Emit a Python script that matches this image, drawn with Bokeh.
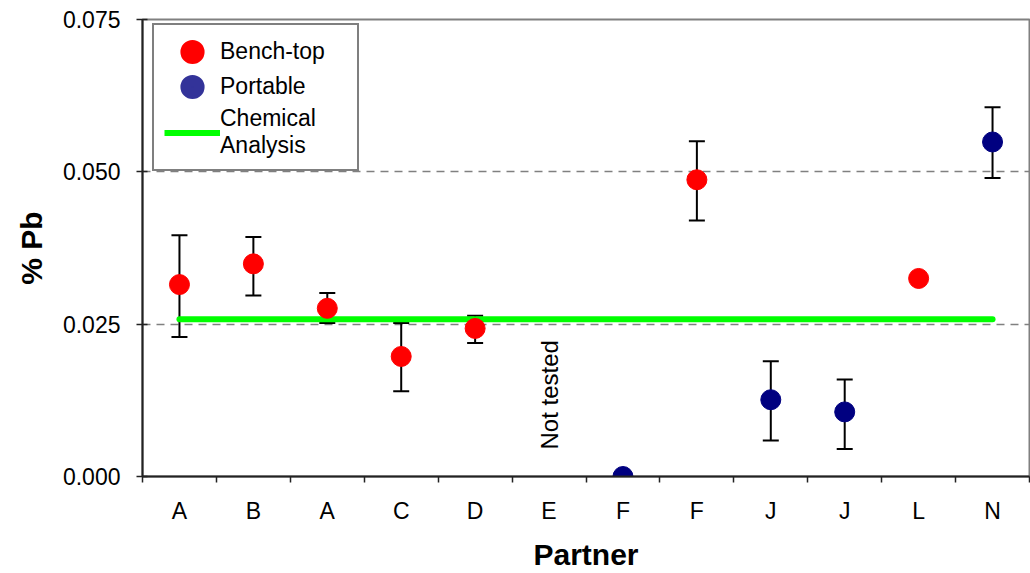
import math
from bokeh.plotting import figure
from bokeh.models import (ColumnDataSource, Whisker, TeeHead, FixedTicker, Legend,
                          LegendItem, Label, NumeralTickFormatter)
from bokeh.embed import file_html
from bokeh.resources import INLINE

# ---------------- data ----------------
partners = ["A", "B", "A", "C", "D", "E", "F", "F", "J", "J", "L", "N"]
instrument = ["Bench-top", "Bench-top", "Bench-top", "Bench-top", "Bench-top", None,
              "Portable", "Bench-top", "Portable", "Portable", "Bench-top", "Portable"]
pb_values = [0.0315, 0.0349, 0.0276, 0.0197, 0.0243, None, 0.0000, 0.0487, 0.0126, 0.0106, 0.0325, 0.0549]
err_upper = [0.0396, 0.0393, 0.0301, 0.0252, 0.0264, None, None, 0.0550, 0.0189, 0.0159, None, 0.0606]
err_lower = [0.0229, 0.0297, 0.0252, 0.0140, 0.0219, None, None, 0.0420, 0.0059, 0.0045, None, 0.0490]
chemical_analysis = 0.0258
not_tested_partner = 5
y_ticks = [0.0, 0.025, 0.05, 0.075]

FONT = "Liberation Sans"
RED = "#ff0000"
NAVY = "#000080"
LEG_NAVY = "#333399"
GREEN = "#00ff00"

idx = list(range(len(partners)))

bench = dict(x=[i for i in idx if instrument[i] == "Bench-top"],
             y=[pb_values[i] for i in idx if instrument[i] == "Bench-top"])
port = dict(x=[i for i in idx if instrument[i] == "Portable"],
            y=[pb_values[i] for i in idx if instrument[i] == "Portable"])
err = dict(x=[i for i in idx if err_upper[i] is not None],
           upper=[err_upper[i] for i in idx if err_upper[i] is not None],
           lower=[err_lower[i] for i in idx if err_upper[i] is not None])

p = figure(width=1030, height=573, x_range=(-0.5, len(partners) - 0.5), y_range=(0, 0.075),
           output_backend="svg", toolbar_location=None,
           min_border_left=142, min_border_top=19, min_border_right=1, min_border_bottom=97)
p.background_fill_color = "white"
p.border_fill_color = "white"
p.outline_line_color = "#808080"
p.outline_line_width = 2

# axes
p.xaxis.ticker = FixedTicker(ticks=idx, minor_ticks=[i - 0.5 for i in range(len(partners) + 1)])
p.xaxis.major_label_overrides = {i: lab for i, lab in enumerate(partners)}
p.xaxis.major_tick_line_color = None
p.xaxis.major_tick_out = 0
p.xaxis.major_tick_in = 0
p.xaxis.minor_tick_in = 0
p.xaxis.minor_tick_out = 6
p.xaxis.minor_tick_line_color = "#222222"
p.xaxis.minor_tick_line_width = 1.5
p.xaxis.major_label_standoff = 15

p.yaxis.ticker = FixedTicker(ticks=y_ticks, minor_ticks=[])
p.yaxis.formatter = NumeralTickFormatter(format="0.000")
p.yaxis.major_tick_in = 5
p.yaxis.major_tick_out = 6
p.yaxis.major_tick_line_color = "#222222"
p.yaxis.major_tick_line_width = 1.5
p.yaxis.major_label_standoff = 16

for ax in (p.xaxis[0], p.yaxis[0]):
    ax.axis_line_color = "#222222"
    ax.axis_line_width = 2
    ax.major_label_text_font = FONT
    ax.major_label_text_font_size = "23px"
    ax.major_label_text_color = "black"
    ax.axis_label_text_font = FONT
    ax.axis_label_text_font_size = "30px"
    ax.axis_label_text_font_style = "bold"
    ax.axis_label_text_color = "black"

p.xaxis.axis_label = "Partner"
p.xaxis.axis_label_standoff = 11
p.yaxis.axis_label = "% Pb"
p.yaxis.axis_label_standoff = 12

p.xgrid.visible = False
p.ygrid.ticker = FixedTicker(ticks=[0.025, 0.05])
p.ygrid.grid_line_color = "#808080"
p.ygrid.grid_line_width = 1.5
p.ygrid.grid_line_dash = "8 6"

# error bars
esrc = ColumnDataSource(err)
w = Whisker(base="x", upper="upper", lower="lower", source=esrc, dimension="height",
            line_color="black", line_width=2,
            upper_head=TeeHead(size=16, line_color="black", line_width=2),
            lower_head=TeeHead(size=16, line_color="black", line_width=2))
p.add_layout(w)

# chemical analysis line
chem_r = p.line(x=[idx[0], idx[-1]], y=[chemical_analysis, chemical_analysis],
                line_color=GREEN, line_width=6, line_cap="round")

# points
p.scatter(x="x", y="y", source=ColumnDataSource(bench), size=20, fill_color=RED, line_color=RED)
p.scatter(x="x", y="y", source=ColumnDataSource(port), size=20, fill_color=NAVY, line_color=NAVY)

# not tested
p.add_layout(Label(x=not_tested_partner, y=0.0134, text="Not tested", angle=math.pi / 2,
                   text_align="center", text_baseline="middle", text_font=FONT,
                   text_font_size="24px", text_color="black"))

# legend (legend-only renderers, placed outside the visible ranges)
off = [-100.0]
lb = p.scatter(x=off, y=off, size=12, fill_color=RED, line_color=RED, line_width=11)
lp = p.scatter(x=off, y=off, size=12, fill_color=LEG_NAVY, line_color=LEG_NAVY, line_width=11)
lc = p.line(x=off + off, y=off + off, line_color=GREEN, line_width=6)
legend = Legend(items=[LegendItem(label="Bench-top", renderers=[lb]),
                       LegendItem(label="Portable", renderers=[lp]),
                       LegendItem(label="Chemical\nAnalysis", renderers=[lc])],
                location=(10, 305))
legend.label_text_font = FONT
legend.label_text_font_size = "23px"
legend.label_text_color = "black"
legend.label_text_line_height = 1.35
legend.glyph_width = 56
legend.glyph_height = 33
legend.label_standoff = 0
legend.label_height = 33
legend.label_width = 127
legend.spacing = 2
legend.padding = 10
legend.margin = 0
legend.border_line_color = "black"
legend.border_line_width = 2
legend.background_fill_color = "white"
legend.background_fill_alpha = 1
p.add_layout(legend, "center")

open("out.html", "w").write(file_html(p, INLINE))
